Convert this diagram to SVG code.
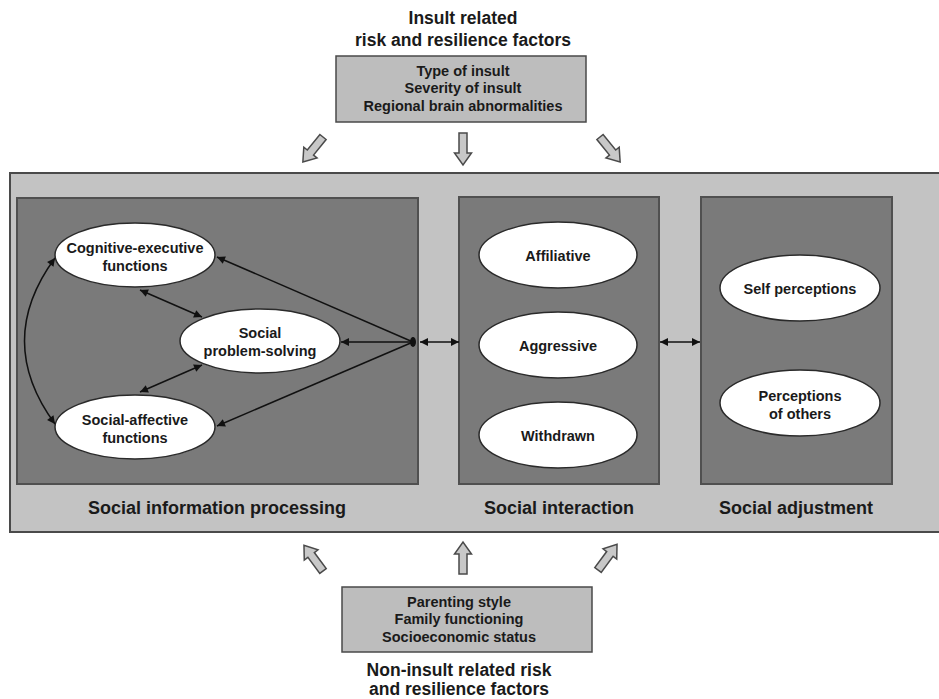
<svg xmlns="http://www.w3.org/2000/svg" width="939" height="699" viewBox="0 0 939 699">
<style>
text{font-family:"Liberation Sans",Arial,sans-serif;font-weight:bold;fill:#1a1a1a;text-anchor:middle}
.title{font-size:17.5px}
.lab{font-size:18px}
.box{font-size:14.5px}
.ell{font-size:14.5px}
.panel{fill:#7a7a7a;stroke:#505050;stroke-width:2}
.node{fill:#ffffff;stroke:#2a2a2a;stroke-width:1.5}
.fbox{fill:#bdbdbd;stroke:#4a4a4a;stroke-width:1.5}
.blk{fill:#c8c8c8;stroke:#4a4a4a;stroke-width:1.5;stroke-linejoin:miter}
.con{fill:none;stroke:#111;stroke-width:1.5;marker-start:url(#ah);marker-end:url(#ah)}
</style>
<defs>
<marker id="ah" viewBox="0 0 10 10" refX="10" refY="5" markerWidth="9" markerHeight="8" markerUnits="userSpaceOnUse" orient="auto-start-reverse">
<path d="M0,0 L10,5 L0,10 Z" fill="#111"/>
</marker>
<path id="barrow" d="M-4,0 L4,0 L4,20 L8.5,20 L0,32 L-8.5,20 L-4,20 Z"/>
</defs>
<rect width="939" height="699" fill="#ffffff"/>

<g id="top-factors">
<text class="title" x="463" y="24">Insult related</text>
<text class="title" x="463" y="46">risk and resilience factors</text>
<rect class="fbox" x="336" y="56" width="250" height="66"/>
<text class="box" x="463" y="76">Type of insult</text>
<text class="box" x="463" y="93">Severity of insult</text>
<text class="box" x="463" y="111">Regional brain abnormalities</text>
</g>

<g id="top-arrows">
<use href="#barrow" class="blk" transform="translate(323,137) rotate(39)"/>
<use href="#barrow" class="blk" transform="translate(463,133)"/>
<use href="#barrow" class="blk" transform="translate(600,137) rotate(-39)"/>
</g>

<g id="outer">
<rect x="10" y="173" width="940" height="359" fill="#c3c3c3" stroke="#4a4a4a" stroke-width="2"/>
</g>

<g id="sip">
<rect class="panel" x="17" y="198" width="401" height="286"/>
<text class="lab" x="217" y="514">Social information processing</text>
</g>
<g id="si">
<rect class="panel" x="459" y="197" width="200" height="287"/>
<text class="lab" x="559" y="514">Social interaction</text>
</g>
<g id="sa">
<rect class="panel" x="701" y="197" width="191" height="287"/>
<text class="lab" x="796" y="514">Social adjustment</text>
</g>

<g id="cog">
<ellipse class="node" cx="135" cy="255" rx="80" ry="32"/>
<text class="ell" x="135" y="253">Cognitive-executive</text>
<text class="ell" x="135" y="271">functions</text>
</g>
<g id="sps">
<ellipse class="node" cx="260" cy="341" rx="80" ry="32"/>
<text class="ell" x="260" y="338">Social</text>
<text class="ell" x="260" y="356">problem-solving</text>
</g>
<g id="saf">
<ellipse class="node" cx="135" cy="427" rx="80" ry="32"/>
<text class="ell" x="135" y="425">Social-affective</text>
<text class="ell" x="135" y="443">functions</text>
</g>

<g id="aff">
<ellipse class="node" cx="558" cy="255" rx="79" ry="33"/>
<text class="ell" x="558" y="261">Affiliative</text>
</g>
<g id="agg">
<ellipse class="node" cx="558" cy="345" rx="79" ry="33"/>
<text class="ell" x="558" y="351">Aggressive</text>
</g>
<g id="wd">
<ellipse class="node" cx="558" cy="435" rx="79" ry="33"/>
<text class="ell" x="558" y="441">Withdrawn</text>
</g>

<g id="self">
<ellipse class="node" cx="800" cy="288" rx="80" ry="33"/>
<text class="ell" x="800" y="294">Self perceptions</text>
</g>
<g id="others">
<ellipse class="node" cx="800" cy="403" rx="80" ry="33"/>
<text class="ell" x="800" y="401">Perceptions</text>
<text class="ell" x="800" y="419">of others</text>
</g>

<g id="connectors">
<ellipse cx="413" cy="342" rx="3" ry="5" fill="#111"/>
<path class="con" style="marker-start:none" d="M413,342 L217,257"/>
<path class="con" style="marker-start:none" d="M413,342 L341,342"/>
<path class="con" style="marker-start:none" d="M413,342 L217,426"/>
<path class="con" d="M420,342 L459,342"/>
<path class="con" d="M660,342 L700,342"/>
<path class="con" d="M140,290 L202,317"/>
<path class="con" d="M202,365 L140,392"/>
<path class="con" d="M55,258 Q-6,341 55,424"/>
</g>

<g id="bottom-arrows">
<use href="#barrow" class="blk" transform="translate(323,571) rotate(143.5)"/>
<use href="#barrow" class="blk" transform="translate(463,574) rotate(180)"/>
<use href="#barrow" class="blk" transform="translate(598,570) rotate(-143.5)"/>
</g>

<g id="bottom-factors">
<rect class="fbox" x="342" y="587" width="250" height="65"/>
<text class="box" x="459" y="607">Parenting style</text>
<text class="box" x="459" y="624">Family functioning</text>
<text class="box" x="459" y="642">Socioeconomic status</text>
<text class="title" x="459" y="676">Non-insult related risk</text>
<text class="title" x="459" y="695">and resilience factors</text>
</g>
</svg>
